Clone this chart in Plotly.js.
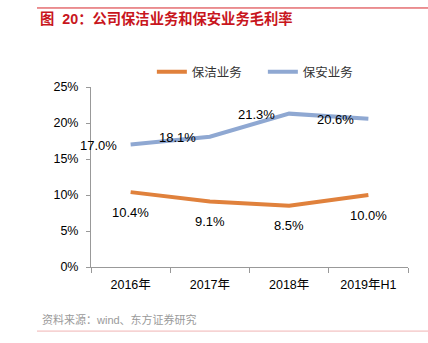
<!DOCTYPE html>
<html>
<head>
<meta charset="utf-8">
<script src="https://cdn.plot.ly/plotly-3.0.1.min.js"></script>
<style>html,body{margin:0;padding:0;background:#fff;}#chart{width:428px;height:343px;}</style>
</head>
<body>
<div id="chart"></div>
<script>
var categories = ['2016年', '2017年', '2018年', '2019年H1'];
var cleaningMargin = [10.4, 9.1, 8.5, 10.0];
var securityMargin = [17.0, 18.1, 21.3, 20.6];
var seriesNames = ['保洁业务', '保安业务'];
var titleText = '图\u00a0\u00a020：公司保洁业务和保安业务毛利率';
var sourceText = '资料来源：wind、东方证券研究';

var FONT = '"Liberation Sans", Arial, "Noto Sans CJK SC", sans-serif';
var ORANGE = '#E0813C';
var BLUE = '#8FA8D2';

var traces = [
  {x: categories, y: cleaningMargin, name: seriesNames[0], type: 'scatter', mode: 'lines',
   line: {color: ORANGE, width: 4}},
  {x: categories, y: securityMargin, name: seriesNames[1], type: 'scatter', mode: 'lines',
   line: {color: BLUE, width: 4}}
];

var annotations = [];
categories.forEach(function (c, i) {
  annotations.push({x: c, y: cleaningMargin[i], xref: 'x', yref: 'y',
    text: cleaningMargin[i].toFixed(1) + '%', showarrow: false,
    xanchor: 'center', yanchor: 'middle', yshift: -20,
    font: {family: FONT, size: 13, color: '#000'}});
  annotations.push({x: c, y: securityMargin[i], xref: 'x', yref: 'y',
    text: securityMargin[i].toFixed(1) + '%', showarrow: false,
    xanchor: 'right', yanchor: 'middle', xshift: -12, yshift: -1,
    font: {family: FONT, size: 13, color: '#000'}});
});
annotations.push({xref: 'paper', yref: 'paper', x: -0.161, y: -0.294,
  xanchor: 'left', yanchor: 'middle', text: sourceText, showarrow: false,
  font: {family: FONT, size: 11, color: '#9a9a9a'}});

var layout = {
  width: 428, height: 343,
  margin: {l: 91, r: 20, t: 87, b: 76},
  paper_bgcolor: '#fff', plot_bgcolor: '#fff',
  font: {family: FONT, size: 12.5, color: '#000'},
  title: {text: '<b>' + titleText + '</b>', xref: 'container', yref: 'container',
    x: 40 / 428, xanchor: 'left', y: 1 - 19 / 343, yanchor: 'middle',
    font: {family: FONT, size: 14.3, color: '#C8161D'}},
  showlegend: true,
  legend: {orientation: 'h', x: 0.192, xanchor: 'left', y: 1.083, yanchor: 'middle',
    entrywidth: 66, entrywidthmode: 'pixels',
    font: {family: FONT, size: 12.5, color: '#333'}, bgcolor: 'rgba(0,0,0,0)'},
  xaxis: {type: 'category', range: [-0.5, 3.5], autorange: false,
    tickson: 'boundaries', ticks: 'outside', ticklen: 5, ticklabelstandoff: 6,
    tickcolor: '#999', showline: true, linecolor: '#999', linewidth: 1,
    showgrid: false, zeroline: false, fixedrange: true,
    tickfont: {family: FONT, size: 12.5, color: '#000'}},
  yaxis: {range: [0, 25], autorange: false, dtick: 5, ticksuffix: '%', ticks: 'outside', ticklen: 4,
    ticklabelstandoff: 5,
    tickcolor: '#999', showline: true, linecolor: '#999', linewidth: 1,
    showgrid: false, zeroline: false, fixedrange: true,
    tickfont: {family: FONT, size: 12.5, color: '#000'}},
  annotations: annotations,
  shapes: [
    {type: 'line', xref: 'paper', yref: 'paper', x0: -0.1703, x1: 1.07, y0: 1.439, y1: 1.439,
     line: {color: '#D7262B', width: 1}},
    {type: 'line', xref: 'paper', yref: 'paper', x0: -0.1703, x1: 1.07, y0: -0.356, y1: -0.356,
     line: {color: '#F0B4B4', width: 1}}
  ]
};

Plotly.newPlot('chart', traces, layout, {displayModeBar: false, staticPlot: true});
</script>
</body>
</html>
